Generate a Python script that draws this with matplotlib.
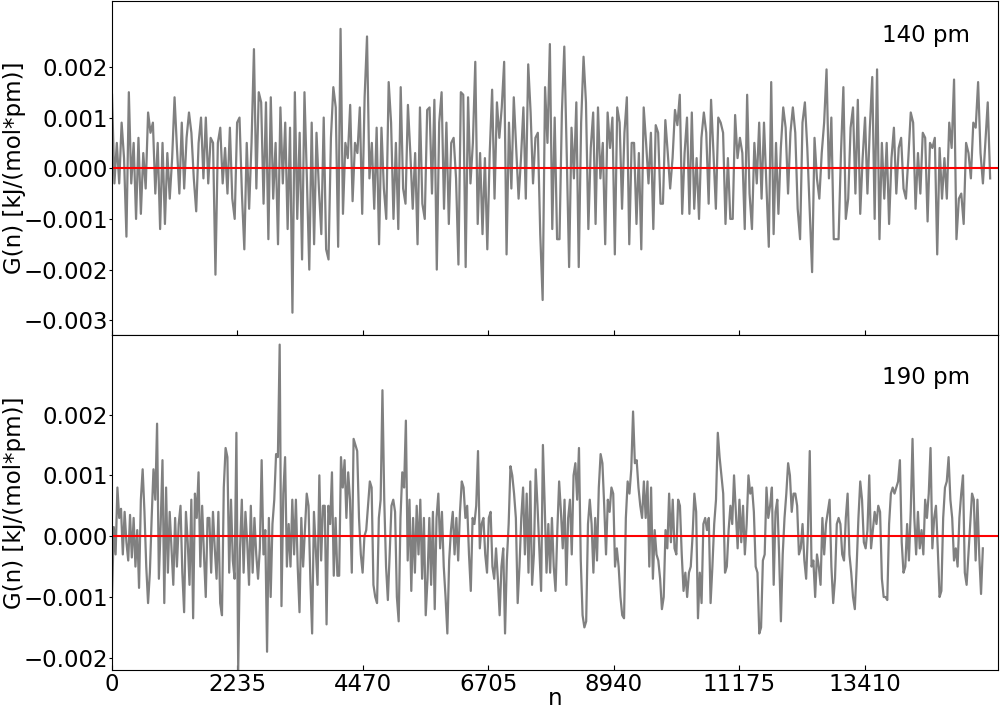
import numpy as np
import matplotlib
matplotlib.use("Agg")
import matplotlib.pyplot as plt
from matplotlib.ticker import FuncFormatter

# G(n) series, in units of 1e-3 kJ/(mol*pm)
g140_milli = [
    1.45, -0.3, 0.5, -0.3, 0.9, 0.2, -1.35, 1.5, -0.3, 0.5,
    -1.0, 0.6, -0.9, 0.3, -0.4, 1.1, 0.7, 0.9, -0.5, 0.5,
    -1.2, 0.5, -1.1, 0.3, -0.6, 0.2, 1.4, 0.4, -0.5, 0.9,
    -0.4, 0.6, 1.1, 0.7, -0.2, -0.85, 0.5, 1.0, -0.2, 1.0,
    -0.3, 0.6, 0.5, -2.1, 0.5, 0.8, -0.3, 0.4, -0.5, 0.8,
    -0.6, -1.0, 0.9, 1.0, -0.5, -1.6, 0.5, -0.8, 0.5, 2.35,
    -0.4, 1.5, 1.3, -0.7, 1.3, -1.4, 1.4, -0.6, 0.5, -1.5,
    1.2, -0.3, 0.9, -1.2, 0.8, -2.85, 1.5, -1.0, 0.7, -1.8,
    1.5, -0.2, -2.0, 0.9, -1.5, 0.7, -0.4, -1.3,
    1.0, -1.6, -1.8, 0.6, 1.6, 1.2, -1.55, 2.75, -0.9, 0.5,
    0.2, 1.25, -0.65, 0.5, 0.3, 1.2, -0.9, 1.4, 2.6, -0.2,
    0.5, -0.8, 0.8, -1.5, 0.8, -0.4, -1.0, 1.7, 0.9, -1.0,
    0.5, -1.2, 1.6, -0.4, -0.7, 1.25, 0.3, -0.8, 0.3, -1.5,
    1.2, -0.7, -1.0, 1.15, 1.2, -0.5, 1.35, -2.0, 0.9, 1.5,
    -0.8, 0.9, -1.1, 0.5, 0.6, -0.2, -1.9, 1.5, 1.45, -1.95,
    1.4, -0.3, 0.5, 2.1, -1.1, 0.3, -1.3, 0.2, -1.6, 0.3,
    1.55, -0.6, 1.3, 0.6, 1.2, 2.1, -1.7, 0.9, -0.4, 1.4,
    0.4, -0.6, 0.2, 1.2, -0.6, 2.05, 1.1, -0.3, 0.6, 0.7,
    -1.3, -2.6, 1.6, 0.5, 2.45, -1.2, 1.0, -1.4, -1.4, 1.1,
    2.4, 0.3, -1.95, 0.8, -0.2, 1.3, -1.95, 0.9, 2.2, 1.3,
    -1.2, 0.4, 1.1, -1.1, 1.2, -0.2, 0.5, -1.5, 1.1, 0.4,
    1.0, -1.7, 1.2, 0.9, -0.8, 0.7, 1.4, -1.5, 0.5, 0.5,
    -1.1, 0.3, -1.6, 1.2,
    0.5, -0.3, 0.7, -1.2, 0.85, 0.7, -0.7, -0.7, 0.95, 0.3,
    -0.4, 0.2, 1.15, 0.85, 1.45, -0.9, 0.3, 1.0, -0.9, 1.1,
    -0.8, 0.2, -1.0, 0.6, 1.1, 0.7, -0.7, 1.35, 0.3, -0.8,
    1.0, 0.9, 0.7, -1.1, 0.2, -1.0, -1.0, 1.05, 0.2, 0.6,
    0.3, -1.2, 1.45, -0.5, -1.2, 0.5, -0.3, 0.9, -0.6, 0.9,
    -0.3, -1.55, 1.7, -1.3, 0.5, -0.9, 0.4, 1.2, 0.8, -0.5,
    0.7, 1.2, 0.7, -0.8, -1.4, 0.9, 1.3, 0.4, -0.8, -2.05,
    0.6, -0.2, -0.6, 0.3, 0.9, 1.95, -0.2, 1.0, -1.4, -1.4,
    -1.4, 0.3, 1.6, -1.0, -0.6, 0.8, 1.2, -0.5, 1.35, -0.9,
    0.2, 1.0, -0.5, 0.8, 1.8, -1.0, 1.95, -1.4, 0.5, -0.6,
    0.5, -1.1, 0.2, 0.8, -0.5, 0.4, 0.6, -0.4, -0.6, 0.2,
    1.1, 0.9, -0.8, 0.3, -0.5, 0.7, 0.6, -1.05, 0.5, 0.4,
    0.6, -1.7, 0.4, -0.6, 0.2, -0.6, 0.9, 0.4, 1.75, -1.4,
    -0.6, -0.5, -1.1, 0.5, 0.3, -0.2, 0.9, 0.8, 1.7, 0.3,
    -0.3, 0.5, 1.3, -0.2,
]

g190_milli = [
    -1.0, 0.15, -0.3, 0.8, 0.3, 0.45, -0.3, 0.4, -0.1, -0.4,
    0.35, -0.35, 0.3, -0.5, 0.1, -0.85, 0.6, 1.1, 0.4, -0.5,
    -1.1, -0.6, 0.3, 1.1, 0.6, 1.85, -0.7, 0.2, 1.25, -1.1,
    0.8, -0.6, 0.4, -0.2, -0.8, 0.3, -0.5, 0.2, 0.5, -0.6,
    -1.25, 0.4, -0.1, -0.8, 0.6, -1.35, 0.7, 0.3, 1.05, -0.5,
    0.5, -0.3, -1.0, 0.3, 0.3, -0.6, 0.4, -0.2, -0.7, 0.4,
    -1.1, -1.3, 0.8, 1.45, 1.3, -0.6, 0.6, -0.4, -0.7, 1.7,
    -2.2, -0.2, 0.6, -0.6, 0.4, -0.1, -0.8, 0.5, -0.6, 0.3,
    -0.3, -0.7, -0.2, 1.25, -0.3, 0.1, -1.9, 0.3, -1.0, 0.2,
    0.6, 1.35, 1.3, 3.15, -1.15, 0.7, 1.3, -0.5, 0.2, -0.5,
    0.6, -0.3, 0.6, -0.5, -1.25, 0.3, -0.5, 0.1, 0.7, 0.5,
    -0.7, -1.6, 0.4, -0.2, -0.8, 1.0, -0.4, 0.5,
    0.5, -1.45, 0.5, 0.2, 1.05, -0.65, 0.3, -0.65, -0.65, 1.3,
    0.8, 1.25, 0.3, 1.05, 0.6, -0.6, 1.6, 1.5, 1.4, 0.3,
    -0.3, -0.6, 0.0, 0.1, 0.5, 0.9, 0.8, -0.8, -1.0, -1.1,
    0.3, 0.6, 2.4, 0.6, -0.5, -1.05, -0.3, 0.5, 0.6, 0.4,
    -1.0, -1.4, 0.3, 1.05, 0.8, 1.9, -0.4, 0.6, -0.9, 0.3,
    -0.6, 0.5, -0.3, 0.6, -0.7, 0.3, -1.3, -0.7, 0.3, -0.8,
    0.4, -1.2, 0.3, 0.7, -0.2, 0.4, -0.5, -1.0, -1.6, -0.4,
    0.1, 0.4, -0.3, 0.3, -0.4, 0.4, 0.9, 0.8, 0.3, 0.5,
    -0.3, -0.9, 0.3, 0.2, 0.5, 1.4, -0.2, 0.2, 0.3, -0.3,
    -0.6, 0.3, 0.4, -0.5, -0.7, -0.2, -0.7, -1.3, -0.5, -0.2,
    -1.6, -0.4, 0.2, 1.15, 1.0, 0.7, 0.3, -1.1, -0.5, 0.3,
    0.8, -0.3, 0.7, -0.6, 0.9, -0.8, -0.3, 1.1, 0.5, -0.2,
    -0.9, 1.5, 0.5, -0.6, 0.2, -0.6, 0.3, -0.5, -0.9, 0.1,
    0.9, 0.4, -0.2, 0.6, -0.8, 0.3, 0.6, -0.3, 1.0, 1.2,
    0.6, 1.45, -0.4, -1.3, -1.5, -1.4, 0.2, 0.6, 0.2, -0.6,
    0.3, -0.4, 0.8, 1.35, 1.2, 0.5, -0.3, 0.6, 0.4, 0.8,
    0.7, -0.5, -0.2, -0.5, -1.0, -1.3, -1.35, 0.3, 0.9, 0.7,
    1.1, 2.05, 1.2, 1.25, 0.8, 0.5, 0.3, 0.9, 0.3, 0.9,
    -0.5,
    0.8, -0.7, 0.1, -0.3, -0.4, -0.7, -1.2, -1.0, 0.1, -0.2,
    0.7, -0.1, 0.6, -0.2, -0.3, 0.6, 0.5, -0.3, -0.9, -0.6,
    -1.0, -0.6, -0.5, 0.0, 0.7, 0.4, -1.35, -0.6, -1.1, 0.2,
    0.3, 0.1, 0.3, -1.1, -0.5, 0.2, 0.6, 1.7, 1.3, 1.0,
    0.7, -0.6, -0.5, 0.1, 0.5, 0.2, 1.0, 0.4, -0.2, 0.6,
    -0.1, 0.5, -0.3, 0.2, 1.0, 0.7, 0.8, 0.4, -0.5, -0.6,
    -1.6, -1.5, -0.4, -0.3, 0.8, 0.3, 0.5, 0.8, -0.8, 0.4,
    0.6, -0.3, -1.4, -0.3, 0.3, 0.7, 1.2, 1.0, 0.4, 0.7,
    0.7, 0.5, -0.3, -0.2, 0.2, -0.4, -0.7, 0.1, 1.4, -0.5,
    -0.4, -1.0, -0.3, -0.5, -0.8, 0.3, -0.3, 0.2, 0.4, 0.6,
    -0.5, -1.1, -0.7, 0.2, 0.3, 0.2, -0.3, -0.4, 0.3, 0.7,
    -0.3, -0.6, -1.0, -1.2, -0.5, 0.3, 0.9, 0.6, -0.1, -0.2,
    0.1, 1.0, -0.2, 0.1, 0.4, 0.2, 0.5, 0.4, -0.7, -1.0,
    -1.0, -1.05, 0.2, 0.7, 0.8, 0.7, 0.8, 0.9, 1.25, -0.1,
    -0.6, -0.5, 0.2, -0.4, 0.4, 1.6, 0.3, -0.3, 0.4, -0.2,
    0.1, -0.3, 0.6, 0.3, 0.7, 1.45, -0.2, 0.3, 0.5, -0.2,
    -1.0, -0.9, 0.3, 0.8, 0.9, 1.3, 0.6, 0.3, -0.4, -0.2,
    -0.5, 0.3, 0.7, 1.0, -0.6, -0.8, -0.3, 0.2, 0.7, 0.6,
    -0.4, 0.6, -0.3, -0.95, -0.2,
]

n_last_140 = 15640
n_last_190 = 15510
n_ticks = [0, 2235, 4470, 6705, 8940, 11175, 13410]
yticks_140 = [-0.003, -0.002, -0.001, 0.0, 0.001, 0.002]
yticks_190 = [-0.002, -0.001, 0.0, 0.001, 0.002]
labels = ["140 pm", "190 pm"]

panels = [
    (np.array(g140_milli) * 1e-3, n_last_140, (-0.0033, 0.0033), yticks_140),
    (np.array(g190_milli) * 1e-3, n_last_190, (-0.0022, 0.0033), yticks_190),
]

FS = 16.5


def fmt_y(v, pos):
    return f"{v:.3f}".replace("-", "\u2212")


fig, axes = plt.subplots(2, 1, figsize=(10, 7.08), dpi=100, sharex=True)
fig.subplots_adjust(left=0.112, right=0.998, top=0.9986, bottom=0.0537, hspace=0)

for ax, (g, n_last, ylim, yticks), label in zip(axes, panels, labels):
    n = np.linspace(0, n_last, len(g))
    ax.plot(n, g, color="grey", lw=1.6)
    ax.axhline(0, color="red", lw=1.5)
    ax.set_xlim(0, 15780)
    ax.set_ylim(*ylim)
    ax.set_yticks(yticks)
    ax.yaxis.set_major_formatter(FuncFormatter(fmt_y))
    ax.set_xticks(n_ticks)
    ax.tick_params(axis="x", direction="in", labelsize=FS, pad=2.5)
    ax.tick_params(axis="y", direction="out", labelsize=FS, length=2.5, pad=0.5)
    ax.set_ylabel("G(n) [kJ/(mol*pm)]", fontsize=FS)
    ax.yaxis.set_label_coords(-0.097, 0.5)
    ax.text(13720, 0.0025, label, fontsize=FS, ha="left", va="baseline")

axes[0].tick_params(axis="x", labelbottom=False)
axes[1].set_xlabel("n", fontsize=FS, labelpad=-7)

fig.savefig("out.png", dpi=100)
